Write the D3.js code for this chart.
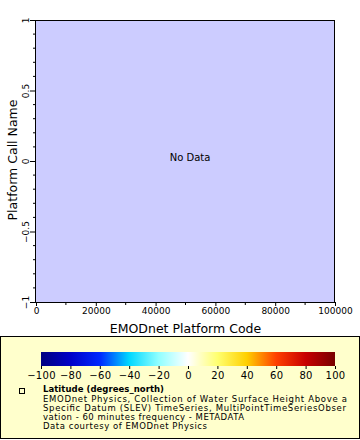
<!DOCTYPE html>
<html><head><meta charset="utf-8">
<script src="https://cdn.jsdelivr.net/npm/d3@7"></script>
<style>body{margin:0;background:#fff}svg{display:block;font-family:"DejaVu Sans",sans-serif}</style>
</head><body>
<script>
// ---- data ----
const xDomain = [0, 100000];
const yDomain = [-1, 1];
const xMajorTicks = [0, 20000, 40000, 60000, 80000, 100000];
const xMinorTicks = [10000, 30000, 50000, 70000, 90000];
const yMajorTicks = [-1, -0.5, 0, 0.5, 1];
const yMinorTicks = [-0.9,-0.8,-0.7,-0.6,-0.4,-0.3,-0.2,-0.1,0.1,0.2,0.3,0.4,0.6,0.7,0.8,0.9];
const cbDomain = [-100, 100];
const cbTicks = [-100, -80, -60, -40, -20, 0, 20, 40, 60, 80, 100];
const paletteStops = [-100, -80, -60, -40, -20, 0, 20, 40, 60, 80, 100];
const paletteColors = ["#000080","#0000c8","#0028ff","#00d8ff","#90ffff","#ffffff","#ffff70","#ffd000","#ff4000","#c80000","#780000"];
const xTitle = "EMODnet Platform Code";
const yTitle = "Platform Call Name";
const noDataText = "No Data";
const legendTitle = "Latitude (degrees_north)";
const legendLines = [
  "EMODnet Physics, Collection of Water Surface Height Above a",
  "Specific Datum (SLEV) TimeSeries, MultiPointTimeSeriesObser",
  "vation - 60 minutes frequency - METADATA",
  "Data courtesy of EMODnet Physics"
];
// rendered widths of the legend lines (px), as in the reference
const legendLineWidths = [304, 303, 201, 164];
const legendTitleWidth = 121;

const W = 360, H = 440;
const P = {l: 36, r: 335, t: 20, b: 302};
const svg = d3.select("body").append("svg").attr("width", W).attr("height", H);

const x = d3.scaleLinear().domain(xDomain).range([P.l, P.r]);
const y = d3.scaleLinear().domain(yDomain).range([P.b, P.t]);

// plot background
svg.append("rect").attr("x", P.l).attr("y", P.t).attr("width", P.r - P.l).attr("height", P.b - P.t).attr("fill", "#ccccff");

// x axis
const xAxis = svg.append("g").attr("transform", `translate(0,${P.b})`)
  .call(d3.axisBottom(x).tickValues(xMajorTicks).tickFormat(d3.format("d")).tickSize(4).tickPadding(2));
xAxis.append("g").selectAll("line").data(xMinorTicks).join("line")
  .attr("x1", d => x(d)).attr("x2", d => x(d)).attr("y1", 0).attr("y2", 3).attr("stroke", "#000");
xAxis.select(".domain").attr("d", `M${P.l},0.5H${P.r}`);
xAxis.selectAll("text").attr("font-size", 9).attr("font-family", "DejaVu Sans").attr("fill", "#000");

// y axis
const yAxis = svg.append("g").attr("transform", `translate(${P.l},0)`)
  .call(d3.axisLeft(y).tickValues(yMajorTicks).tickFormat(d => d3.format("")(d)).tickSize(6).tickPadding(2));
yAxis.append("g").selectAll("line").data(yMinorTicks).join("line")
  .attr("y1", d => y(d)).attr("y2", d => y(d)).attr("x1", 0).attr("x2", -3).attr("stroke", "#000");
yAxis.select(".domain").attr("d", `M-0.5,${P.t}V${P.b}`);
yAxis.selectAll(".tick text")
  .attr("font-size", 9).attr("font-family", "DejaVu Sans").attr("fill", "#000")
  .attr("x", null).attr("dy", null)
  .attr("text-anchor", "middle")
  .attr("transform", "translate(-7,0) rotate(-90)");

// top/right frame lines
svg.append("line").attr("x1", P.l).attr("x2", P.r).attr("y1", P.t + 0.5).attr("y2", P.t + 0.5).attr("stroke", "#000");
svg.append("line").attr("x1", P.r - 0.5).attr("x2", P.r - 0.5).attr("y1", P.t).attr("y2", P.b).attr("stroke", "#000");

// titles
svg.append("text").attr("x", (P.l + P.r) / 2).attr("y", 333).attr("text-anchor", "middle")
  .attr("font-size", 12.5).text(xTitle);
svg.append("text").attr("transform", `translate(17,${(P.t + P.b) / 2 - 1}) rotate(-90)`).attr("text-anchor", "middle")
  .attr("font-size", 12.5).text(yTitle);
svg.append("text").attr("x", 190).attr("y", 161).attr("text-anchor", "middle").attr("font-size", 10).text(noDataText);

// legend box
svg.append("rect").attr("x", 0.5).attr("y", 336.5).attr("width", 359).attr("height", 102)
  .attr("fill", "#ffffcc").attr("stroke", "#000");

// colorbar
const cbx = d3.scaleLinear().domain(cbDomain).range([41, 335]);
const grad = svg.append("defs").append("linearGradient").attr("id", "cb");
grad.selectAll("stop").data(paletteStops).join("stop")
  .attr("offset", d => (d - cbDomain[0]) / (cbDomain[1] - cbDomain[0]))
  .attr("stop-color", (d, i) => paletteColors[i]);
svg.append("rect").attr("x", 41).attr("y", 352).attr("width", 294).attr("height", 14).attr("fill", "url(#cb)");
const cbAxis = svg.append("g").attr("transform", "translate(0,366)")
  .call(d3.axisBottom(cbx).tickValues(cbTicks).tickFormat(d3.format("d")).tickSize(3).tickPadding(3));
cbAxis.select(".domain").remove();
cbAxis.selectAll("text").attr("font-size", 10).attr("letter-spacing", 0.3).attr("font-family", "DejaVu Sans").attr("fill", "#000");

// legend entry
svg.append("rect").attr("x", 19.5).attr("y", 388.5).attr("width", 5).attr("height", 5).attr("fill", "none").attr("stroke", "#000");
svg.append("text").attr("x", 43).attr("y", 392).attr("font-size", 8.5).attr("font-weight", "bold")
  .attr("textLength", legendTitleWidth).attr("lengthAdjust", "spacing").text(legendTitle);
svg.append("g").selectAll("text").data(legendLines).join("text")
  .attr("x", 43).attr("y", (d, i) => 401.5 + i * 9.3).attr("font-size", 8.5)
  .attr("textLength", (d, i) => legendLineWidths[i]).attr("lengthAdjust", "spacing")
  .text(d => d);
</script>
</body></html>
